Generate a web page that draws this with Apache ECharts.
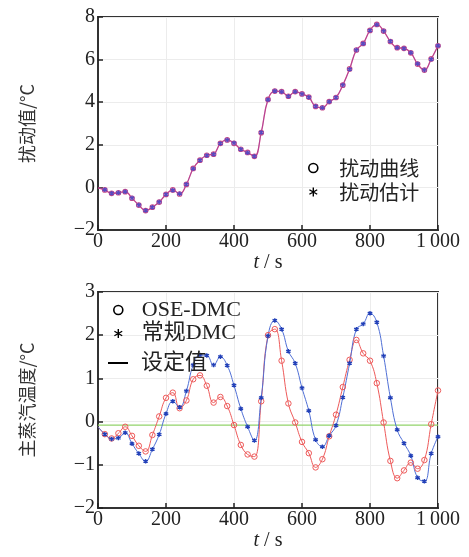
<!DOCTYPE html>
<html>
<head>
<meta charset="utf-8">
<script src="https://cdn.jsdelivr.net/npm/echarts@6/dist/echarts.min.js"></script>
<style>
html,body{margin:0;padding:0;background:#fff;}
#c{width:469px;height:557px;}
</style>
</head>
<body>
<div id="c"></div>
<script>
// ---- data ----
var time = [0,20,40,60,80,100,120,140,160,180,200,220,240,260,280,300,320,340,360,380,400,420,440,460,480,500,520,540,560,580,600,620,640,660,680,700,720,740,760,780,800,820,840,860,880,900,920,940,960,980,1000];
// top chart: disturbance curve and its estimate
var disturbance = [-0.02,-0.12,-0.28,-0.25,-0.2,-0.51,-0.83,-1.09,-0.93,-0.69,-0.33,-0.12,-0.31,0.14,0.89,1.28,1.51,1.56,2.07,2.23,2.07,1.79,1.64,1.46,2.57,4.13,4.52,4.50,4.28,4.50,4.39,4.24,3.80,3.74,4.03,4.22,4.80,5.56,6.45,6.76,7.37,7.65,7.34,6.85,6.56,6.53,6.32,5.79,5.51,6.03,6.65];
var disturbanceEst = [-0.02,-0.11,-0.27,-0.25,-0.21,-0.50,-0.83,-1.08,-0.93,-0.68,-0.33,-0.13,-0.30,0.15,0.88,1.28,1.50,1.56,2.06,2.23,2.08,1.79,1.63,1.46,2.58,4.12,4.52,4.49,4.28,4.49,4.39,4.23,3.81,3.74,4.02,4.22,4.81,5.55,6.45,6.75,7.37,7.64,7.34,6.86,6.56,6.52,6.32,5.80,5.51,6.02,6.65];
// bottom chart: main steam temperature
var oseDmc = [-0.12,-0.29,-0.39,-0.27,-0.12,-0.33,-0.56,-0.69,-0.31,0.12,0.55,0.67,0.31,0.49,0.98,1.07,0.83,0.44,0.57,0.36,-0.08,-0.54,-0.76,-0.81,0.47,2.0,2.14,1.41,0.42,-0.02,-0.47,-0.73,-1.06,-0.87,-0.34,0.16,0.80,1.43,1.89,1.58,1.41,0.89,-0.02,-0.91,-1.31,-1.13,-0.95,-1.09,-0.89,-0.06,0.72];
var normalDmc = [-0.12,-0.29,-0.40,-0.38,-0.26,-0.51,-0.74,-0.92,-0.64,-0.30,0.18,0.47,0.33,0.71,1.31,1.54,1.53,1.31,1.50,1.30,0.84,0.30,-0.12,-0.44,0.55,1.98,2.34,2.14,1.63,1.35,0.78,0.25,-0.42,-0.58,-0.33,-0.09,0.56,1.35,2.14,2.26,2.51,2.30,1.52,0.55,-0.19,-0.50,-0.79,-1.30,-1.38,-0.74,-0.35];
var setpointTime = [0,1000];
var setpoint = [-0.08,-0.08];
var yTopRange = [-2,8], yBotRange = [-2,3];

function pairs(xs, ys){ return xs.map(function(x,i){return [x, ys[i]];}); }

var SERIF = "'Liberation Serif','Noto Sans CJK SC',serif";
var CJK = "'Noto Sans CJK SC',sans-serif";
var ASTER = 'path://M5,0V10M0.67,2.5L9.33,7.5M0.67,7.5L9.33,2.5';

function lab(v){ if (v===1000) return '1\u2009000'; return String(v).replace('-', '\u2212'); }

function xAx(gi){
  return {
    type:'value', gridIndex:gi, min:0, max:1000, interval:200,
    name:'{i|t} / s', nameLocation:'middle', nameGap: gi===0 ? 18 : 21,
    nameTextStyle:{fontFamily:SERIF, fontSize:20, color:'#222', rich:{i:{fontStyle:'italic', fontFamily:SERIF, fontSize:20, color:'#222'}}},
    axisLine:{show:true, onZero:false, lineStyle:{color:'#333', width:2}},
    axisTick:{show:true, inside:true, length:5, lineStyle:{color:'#222', width:1.5}},
    axisLabel:{fontFamily:SERIF, fontSize:20, color:'#222', margin:2, formatter:lab},
    splitLine:{show:true, lineStyle:{color:'#ececec', width:1}}
  };
}
function yAx(gi, range, interval, name){
  return {
    type:'value', gridIndex:gi, min:range[0], max:range[1], interval:interval,
    name:name, nameLocation:'middle', nameGap:62, nameRotate:90,
    nameTextStyle:{fontFamily:CJK, fontSize:18, color:'#333'},
    axisLine:{show:true, onZero:false, lineStyle:{color:'#333', width:2}},
    axisTick:{show:true, inside:true, length:5, lineStyle:{color:'#222', width:1.5}},
    axisLabel:{fontFamily:SERIF, fontSize:20, color:'#222', margin:3, formatter:lab},
    splitLine:{show:true, lineStyle:{color:'#ececec', width:1}}
  };
}
function hideFirst(sym){ return function(v, p){ return p.dataIndex===0 ? 'none' : sym; }; }

var chart = echarts.init(document.getElementById('c'), null, {renderer:'canvas'});
chart.setOption({
  animation:false,
  backgroundColor:'#fff',
  grid:[
    {left:98, width:340, top:17, height:213, show:true, borderColor:'#333', borderWidth:2},
    {left:98, width:340, top:292, height:216, show:true, borderColor:'#333', borderWidth:2}
  ],
  xAxis:[xAx(0), xAx(1)],
  yAxis:[yAx(0, yTopRange, 2, '扰动值/°C'), yAx(1, yBotRange, 1, '主蒸汽温度/°C')],
  legend:[
    {orient:'vertical', left:303, top:153, itemWidth:42, itemHeight:9, itemGap:4,
     textStyle:{fontFamily:CJK, fontSize:20, color:'#222'},
     data:[
      {name:'扰动曲线', icon:'circle', itemStyle:{color:'transparent', borderColor:'#000', borderWidth:1.6}},
      {name:'扰动估计', icon:ASTER, itemStyle:{color:'transparent', borderColor:'#000', borderWidth:1.4}}
     ]},
    {orient:'vertical', left:108, top:294, itemWidth:37, itemHeight:9, itemGap:1.5,
     textStyle:{fontFamily:SERIF, fontSize:22, color:'#222'},
     data:[
      {name:'OSE-DMC', icon:'circle', itemStyle:{color:'transparent', borderColor:'#000', borderWidth:1.6}},
      {name:'常规DMC', icon:ASTER, itemStyle:{color:'transparent', borderColor:'#000', borderWidth:1.4}}
     ]},
    {orient:'vertical', left:103, top:347, itemWidth:20, itemHeight:2,
     textStyle:{fontFamily:SERIF, fontSize:22, color:'#222', padding:[0,0,0,8]},
     data:[{name:'设定值', icon:'rect', itemStyle:{color:'#000'}}]}
  ],
  series:[
    {name:'扰动曲线', type:'line', xAxisIndex:0, yAxisIndex:0, data:pairs(time, disturbance),
     smooth:0.45, symbol:hideFirst('circle'), symbolSize:4.5, showAllSymbol:true,
     lineStyle:{color:'#d8407a', width:1.3},
     itemStyle:{color:'transparent', borderColor:'#c84a88', borderWidth:1.2}},
    {name:'扰动估计', type:'line', xAxisIndex:0, yAxisIndex:0, data:pairs(time, disturbanceEst),
     smooth:0.45, symbol:hideFirst(ASTER), symbolSize:4.5, showAllSymbol:true,
     lineStyle:{color:'#6a50d0', width:1, opacity:0.35},
     itemStyle:{color:'transparent', borderColor:'#5a4ac0', borderWidth:1.4}},
    {name:'OSE-DMC', type:'line', xAxisIndex:1, yAxisIndex:1, data:pairs(time, oseDmc),
     smooth:0.45, symbol:hideFirst('circle'), symbolSize:5.5, showAllSymbol:true,
     lineStyle:{color:'#ee5a5a', width:1},
     itemStyle:{color:'transparent', borderColor:'#ee5a5a', borderWidth:1}},
    {name:'常规DMC', type:'line', xAxisIndex:1, yAxisIndex:1, data:pairs(time, normalDmc),
     smooth:0.45, symbol:hideFirst(ASTER), symbolSize:4.5, showAllSymbol:true,
     lineStyle:{color:'#4f6fd6', width:1},
     itemStyle:{color:'transparent', borderColor:'#2240b8', borderWidth:1.4}},
    {name:'设定值', type:'line', xAxisIndex:1, yAxisIndex:1, data:pairs(setpointTime, setpoint),
     symbol:'none', lineStyle:{color:'#92d36a', width:1.2}, z:1}
  ]
});
</script>
</body>
</html>
